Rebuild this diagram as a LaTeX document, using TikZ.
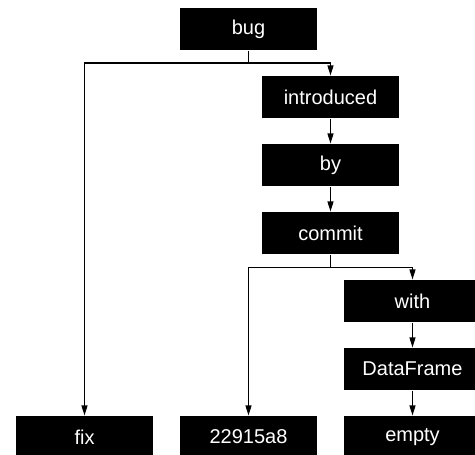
\documentclass[tikz,border=0pt]{standalone}
\usepackage{fontspec}
\setmainfont{Liberation Sans}
\usetikzlibrary{positioning, arrows.meta}

\begin{document}
\begin{tikzpicture}[node distance = 68pt and 82pt,on grid,auto,align=center,
    box/.style={fill=black, text=white, minimum width=137pt, minimum height=42pt,
      inner sep=0pt, font=\fontsize{20}{24}\selectfont},
    >={Triangle[length=10pt,width=6pt]}, line width=1.1pt]
    \useasboundingbox (0,0) rectangle (475pt,-455pt);
    \node[box] (bug) at (248.5pt,-29pt) {bug};
    \node[box] (introduced) [below right = of bug] {introduced};
    \node[box] (by) [below = of introduced] {by};
    \node[box] (commit) [below = of by] {commit};
    \node[box] (with) [below right = of commit] {with};
    \node[box] (dataframe) [below = of with] {DataFrame};
    \node[box] (empty) [below = of dataframe] {empty};
    \node[box] (hash) [left = 164pt of empty] {22915a8};
    \node[box] (fix) [left = 164pt of hash] {fix};
    \coordinate[below = 34pt of bug] (bugsplit);
    \coordinate[below = 34.5pt of commit] (commitsplit);
    \draw (bug) -- (bugsplit);
    \draw (commit) -- (commitsplit);
    \draw[->] (bugsplit) -| (introduced);
    \draw[->] (bugsplit) -| (fix);
    \draw[->] (commitsplit) -| (with);
    \draw[->] (commitsplit) -| (hash);
    \path[->]
    (introduced) edge (by)
    (by) edge (commit)
    (with) edge (dataframe)
    (dataframe) edge (empty)
    ;
\end{tikzpicture}
\end{document}
